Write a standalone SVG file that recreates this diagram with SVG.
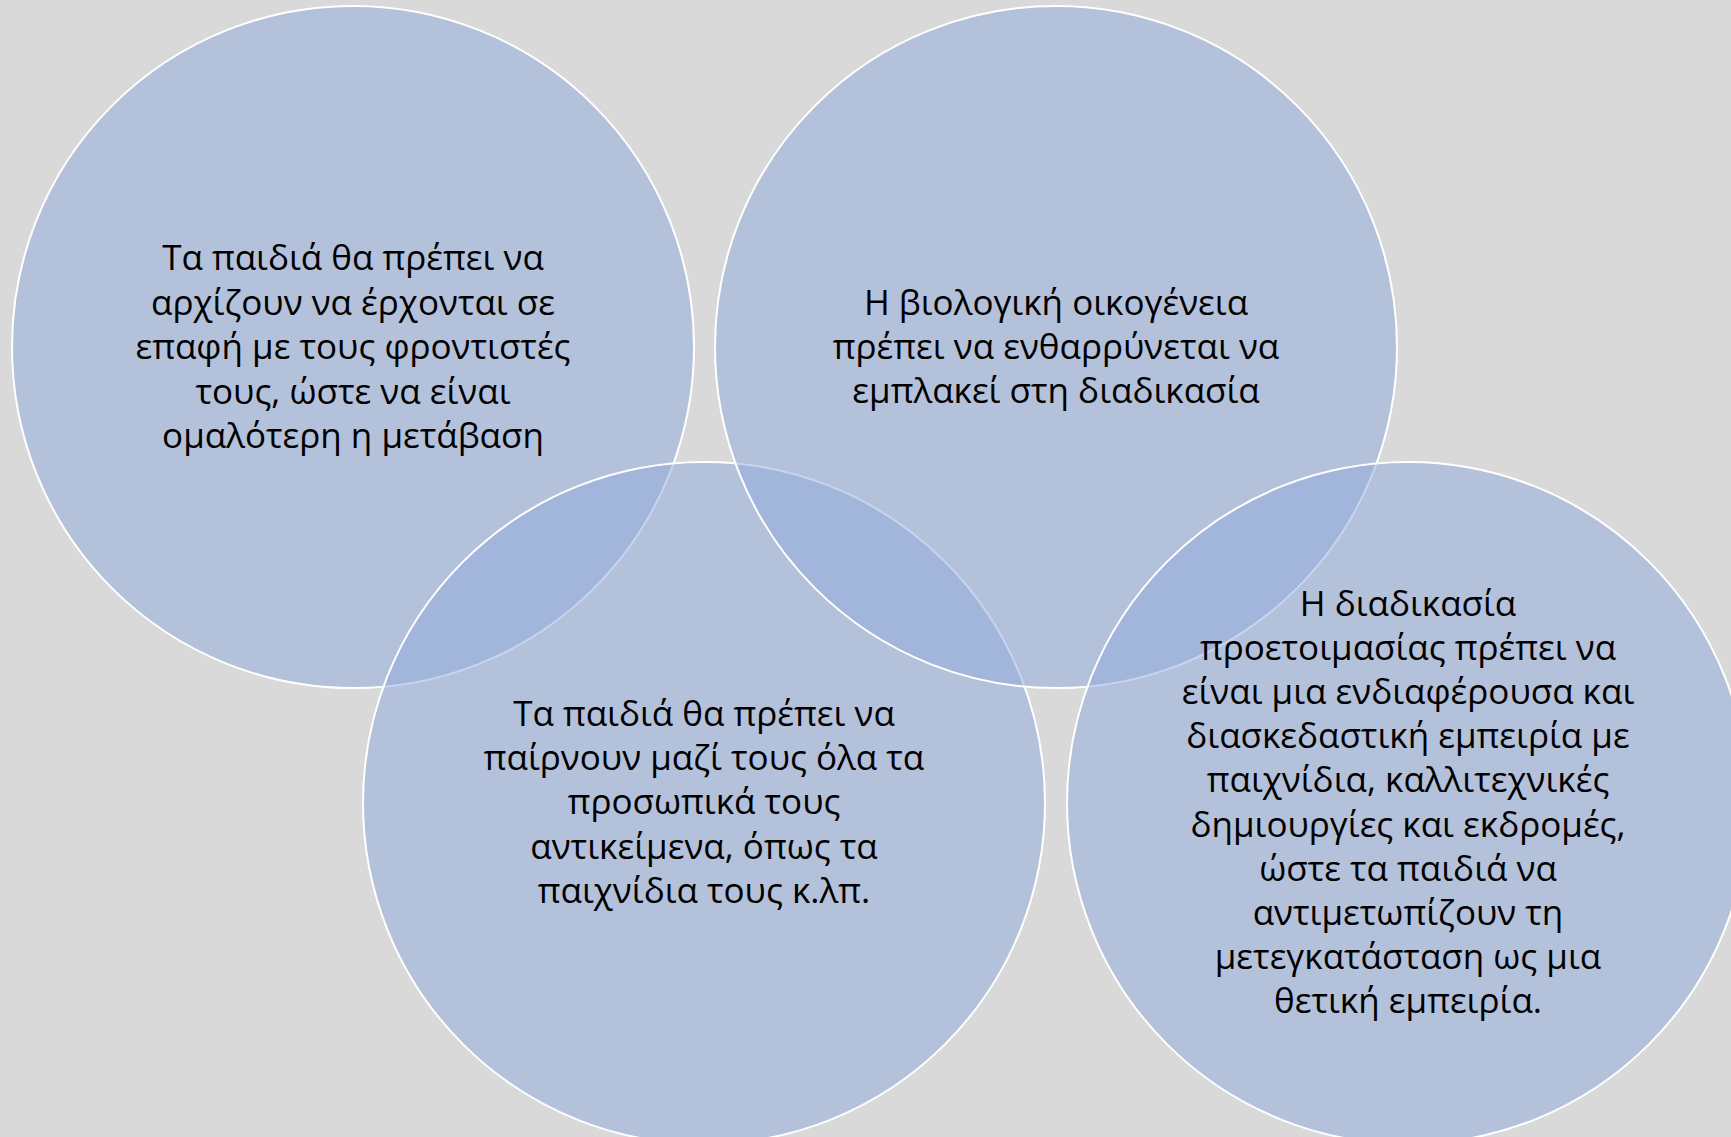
<svg xmlns="http://www.w3.org/2000/svg" width="1731" height="1137" viewBox="0 0 1731 1137">
<style>
.c{fill:#8FAADC;fill-opacity:0.5;stroke:#FFFFFF;stroke-width:2}
.t{font-family:"Open Sans","Noto Sans","DejaVu Sans",sans-serif;font-size:35px;fill:#000000;text-anchor:middle}
</style>
<rect x="0" y="0" width="1731" height="1137" fill="#D9D9D9"/>
<g id="node-tl">
<circle class="c" cx="353" cy="347" r="341"/>
</g>
<g id="node-bl">
<circle class="c" cx="704" cy="803" r="341"/>
</g>
<g id="node-tr">
<circle class="c" cx="1056" cy="347" r="341"/>
</g>
<g id="node-br">
<circle class="c" cx="1408" cy="803" r="341"/>
</g>
<g id="connectors"></g>
<g id="label-tl" class="t">
<text x="353" y="270">Τα παιδιά θα πρέπει να</text>
<text x="353" y="315">αρχίζουν να έρχονται σε</text>
<text x="353" y="359">επαφή με τους φροντιστές</text>
<text x="353" y="404">τους, ώστε να είναι</text>
<text x="353" y="448">ομαλότερη η μετάβαση</text>
</g>
<g id="label-tr" class="t">
<text x="1056" y="315">Η βιολογική οικογένεια</text>
<text x="1056" y="359">πρέπει να ενθαρρύνεται να</text>
<text x="1056" y="403">εμπλακεί στη διαδικασία</text>
</g>
<g id="label-bl" class="t">
<text x="704" y="726">Τα παιδιά θα πρέπει να</text>
<text x="704" y="770">παίρνουν μαζί τους όλα τα</text>
<text x="704" y="814">προσωπικά τους</text>
<text x="704" y="859">αντικείμενα, όπως τα</text>
<text x="704" y="903">παιχνίδια τους κ.λπ.</text>
</g>
<g id="label-br" class="t">
<text x="1408" y="616">Η διαδικασία</text>
<text x="1408" y="660">προετοιμασίας πρέπει να</text>
<text x="1408" y="704">είναι μια ενδιαφέρουσα και</text>
<text x="1408" y="748">διασκεδαστική εμπειρία με</text>
<text x="1408" y="792">παιχνίδια, καλλιτεχνικές</text>
<text x="1408" y="837">δημιουργίες και εκδρομές,</text>
<text x="1408" y="881">ώστε τα παιδιά να</text>
<text x="1408" y="925">αντιμετωπίζουν τη</text>
<text x="1408" y="969">μετεγκατάσταση ως μια</text>
<text x="1408" y="1013">θετική εμπειρία.</text>
</g>
</svg>
